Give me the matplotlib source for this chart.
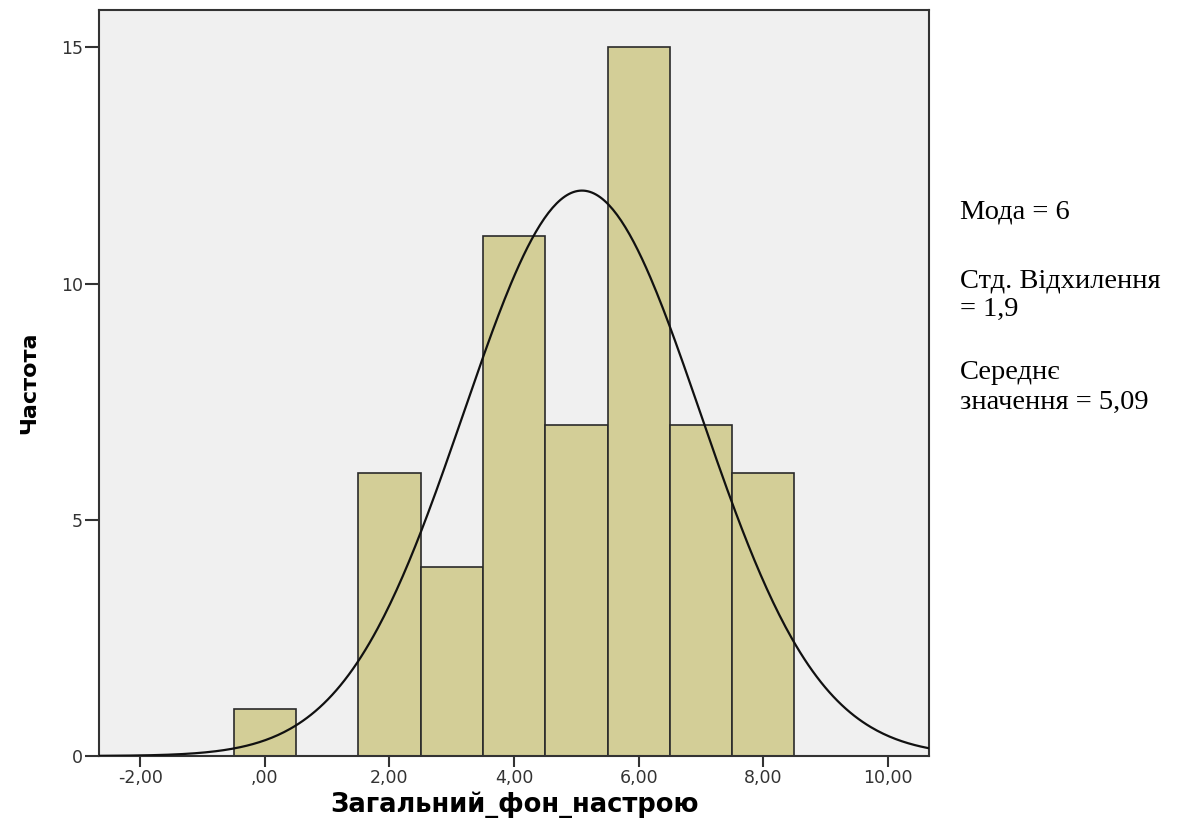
import numpy as np
import matplotlib.pyplot as plt

# Histogram data: bin centres and frequencies
bin_centers = [0, 2, 3, 4, 5, 6, 7, 8]
counts = [1, 6, 4, 11, 7, 15, 7, 6]
mean_val = 5.09
std_val = 1.9
x_ticks = [-2, 0, 2, 4, 6, 8, 10]
x_tick_labels = ['-2,00', ',00', '2,00', '4,00', '6,00', '8,00', '10,00']
y_ticks = [0, 5, 10, 15]
stats_lines = ['Мода = 6', 'Стд. Відхилення', '= 1,9', 'Середнє', 'значення = 5,09']

fig = plt.figure(figsize=(11.97, 8.38), dpi=100)
ax = fig.add_axes([0.0827, 0.0979, 0.6935, 0.8901])
ax.set_facecolor('#f0f0f0')

ax.bar(bin_centers, counts, width=1.0, color='#d3ce97',
       edgecolor='#2a2a2a', linewidth=1.2, zorder=2)

# Normal curve scaled to the histogram
n = sum(counts)
xs = np.linspace(-2.66, 10.66, 400)
ys = n * 1.0 / (std_val * np.sqrt(2 * np.pi)) * np.exp(-0.5 * ((xs - mean_val) / std_val) ** 2)
ax.plot(xs, ys, color='#111111', linewidth=1.6, zorder=3)

ax.set_xlim(-2.66, 10.66)
ax.set_ylim(0, 15.79)
ax.set_xticks(x_ticks)
ax.set_xticklabels(x_tick_labels, fontsize=12.5, family='DejaVu Sans', color='#333333')
ax.set_yticks(y_ticks)
ax.set_yticklabels([str(t) for t in y_ticks], fontsize=12.5, family='DejaVu Sans', color='#333333')
ax.tick_params(axis='x', direction='out', length=8, width=1.5, color='#333333', pad=1.5)
ax.tick_params(axis='y', direction='out', length=10, width=1.5, color='#333333', pad=1.5)

for side in ax.spines.values():
    side.set_color('#333333')
    side.set_linewidth(1.5)

ax.set_xlabel('Загальний_фон_настрою', fontsize=18.5, fontweight='bold',
              family='DejaVu Sans', labelpad=3)
ax.set_ylabel('Частота', fontsize=16, fontweight='bold',
              family='DejaVu Sans', labelpad=16)

# Statistics text on the right (baselines in pixels from top)
baselines = [219, 287, 316, 379, 409]
for txt, yb in zip(stats_lines, baselines):
    fig.text(960 / 1197, 1 - yb / 838, txt, fontsize=20.5, family='Liberation Serif',
             va='baseline', ha='left')

fig.savefig('out.png', dpi=100)
